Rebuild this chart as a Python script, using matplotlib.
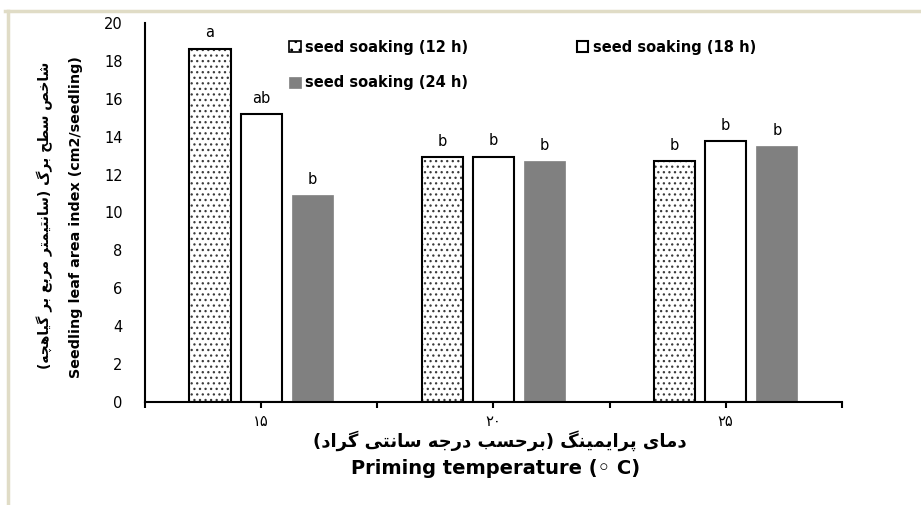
import matplotlib
matplotlib.use('Agg')
import matplotlib.pyplot as plt
import numpy as np
from matplotlib.lines import Line2D

# data
categories = ['۱۵', '۲۰', '۲۵']
soak_12h = [18.65, 12.9, 12.7]
soak_18h = [15.2, 12.95, 13.75]
soak_24h = [10.9, 12.7, 13.5]
letters_12h = ['a', 'b', 'b']
letters_18h = ['ab', 'b', 'b']
letters_24h = ['b', 'b', 'b']

ylabel_fa = 'شاخص سطح برگ (سانتیمتر مربع بر گیاهچه)'
ylabel_en = 'Seedling leaf area index (cm2/seedling)'
xlabel_fa = 'دمای پرایمینگ (برحسب درجه سانتی گراد)'
xlabel_en = 'Priming temperature (\u25e6 C)'

# arabic presentation forms: isolated, final, initial, medial
FORMS = {
    'ا': (0xFE8D, 0xFE8E, None, None),
    'ب': (0xFE8F, 0xFE90, 0xFE91, 0xFE92),
    'ت': (0xFE95, 0xFE96, 0xFE97, 0xFE98),
    'ج': (0xFE9D, 0xFE9E, 0xFE9F, 0xFEA0),
    'ح': (0xFEA1, 0xFEA2, 0xFEA3, 0xFEA4),
    'خ': (0xFEA5, 0xFEA6, 0xFEA7, 0xFEA8),
    'د': (0xFEA9, 0xFEAA, None, None),
    'ر': (0xFEAD, 0xFEAE, None, None),
    'س': (0xFEB1, 0xFEB2, 0xFEB3, 0xFEB4),
    'ش': (0xFEB5, 0xFEB6, 0xFEB7, 0xFEB8),
    'ص': (0xFEB9, 0xFEBA, 0xFEBB, 0xFEBC),
    'ط': (0xFEC1, 0xFEC2, 0xFEC3, 0xFEC4),
    'ع': (0xFEC9, 0xFECA, 0xFECB, 0xFECC),
    'م': (0xFEE1, 0xFEE2, 0xFEE3, 0xFEE4),
    'ن': (0xFEE5, 0xFEE6, 0xFEE7, 0xFEE8),
    'ه': (0xFEE9, 0xFEEA, 0xFEEB, 0xFEEC),
    'پ': (0xFB56, 0xFB57, 0xFB58, 0xFB59),
    'چ': (0xFB7A, 0xFB7B, 0xFB7C, 0xFB7D),
    'گ': (0xFB92, 0xFB93, 0xFB94, 0xFB95),
    'ی': (0xFBFC, 0xFBFD, 0xFBFE, 0xFBFF),
}


def shape_fa(text):
    # minimal shaping + right-to-left ordering (no bidi lib available)
    def joins_next(c):
        return c in FORMS and FORMS[c][2] is not None
    out = []
    for i, c in enumerate(text):
        if c not in FORMS:
            out.append(c)
            continue
        prev = text[i - 1] if i > 0 else ''
        nxt = text[i + 1] if i + 1 < len(text) else ''
        p = joins_next(prev)
        n = joins_next(c) and nxt in FORMS
        iso, fin, ini, med = FORMS[c]
        if p and n:
            out.append(chr(med))
        elif p:
            out.append(chr(fin))
        elif n:
            out.append(chr(ini))
        else:
            out.append(chr(iso))
    mirror = {'(': ')', ')': '('}
    return ''.join(mirror.get(c, c) for c in reversed(out))


plt.rcParams['hatch.linewidth'] = 0.9

fig = plt.figure(figsize=(9.21, 5.05), dpi=100)
ax = fig.add_axes([0.1574, 0.204, 0.7566, 0.7506])

x = np.arange(len(categories))
w = 0.177
step = 0.22

# dotted fill drawn in dark grey, black outline on top
ax.bar(x - step, soak_12h, w, facecolor='white', edgecolor='#3a3a3a',
       linewidth=0, hatch='...')
b12 = ax.bar(x - step, soak_12h, w, facecolor='none', edgecolor='black',
             linewidth=1.5, label='seed soaking (12 h)')
b18 = ax.bar(x, soak_18h, w, facecolor='white', edgecolor='black',
             linewidth=1.5, label='seed soaking (18 h)')
b24 = ax.bar(x + step, soak_24h, w, facecolor='#808080', edgecolor='#808080',
             linewidth=0.5, label='seed soaking (24 h)')

for bars, letters in [(b12, letters_12h), (b18, letters_18h), (b24, letters_24h)]:
    for rect, lab in zip(bars, letters):
        ax.annotate(lab, (rect.get_x() + rect.get_width() / 2, rect.get_height()),
                    textcoords='offset points', xytext=(0, 6), ha='center',
                    va='bottom', fontsize=10.5, family='DejaVu Sans')

ax.set_xlim(-0.5, 2.5)
ax.set_ylim(0, 20)
ax.set_yticks(np.arange(0, 21, 2))
ax.tick_params(axis='y', length=0, pad=16, labelsize=10.5)
ax.set_xticks(x)
ax.set_xticklabels(categories, fontsize=10.5, family='DejaVu Sans')
ax.set_xticks([-0.5, 0.5, 1.5, 2.5], minor=True)
ax.tick_params(axis='x', which='both', direction='out', length=4, width=1.5, pad=5)

for s in ['top', 'right']:
    ax.spines[s].set_visible(False)
for s in ['left', 'bottom']:
    ax.spines[s].set_linewidth(1.5)

# axis titles: persian line + english line
fig.text(45 / 921, 1 - 215 / 505, shape_fa(ylabel_fa), rotation=90, ha='center',
         va='center', fontsize=10, fontweight='bold', family='DejaVu Sans')
fig.text(76 / 921, 1 - 217 / 505, ylabel_en, rotation=90, ha='center',
         va='center', fontsize=10.3, fontweight='bold', family='DejaVu Sans')
fig.text(500 / 921, 1 - 441 / 505, shape_fa(xlabel_fa), ha='center', va='center',
         fontsize=13, fontweight='bold', family='DejaVu Sans')
fig.text(496 / 921, 1 - 468 / 505, xlabel_en, ha='center', va='center',
         fontsize=14, fontweight='bold', family='DejaVu Sans')

# legend: dotted patch for 12 h
h12 = plt.Rectangle((0, 0), 1, 1, facecolor='white', edgecolor='black',
                    linewidth=1.2, hatch='..')
ax.legend(handles=[h12, b24, b18],
          labels=['seed soaking (12 h)', 'seed soaking (24 h)', 'seed soaking (18 h)'],
          ncol=2, loc='upper left',
          bbox_to_anchor=(0.1885, 0.99), frameon=False,
          prop={'weight': 'bold', 'size': 10.5, 'family': 'DejaVu Sans'},
          handlelength=0.8, handleheight=0.8, handletextpad=0.3,
          columnspacing=7.4, labelspacing=1.4)

# beige frame lines at top and left
fig.add_artist(Line2D([5 / 921, 1], [1 - 10.5 / 505] * 2, color='#e0dcc6', lw=2.5))
fig.add_artist(Line2D([8 / 921] * 2, [0, 1 - 10.5 / 505], color='#e0dcc6', lw=2.5))

plt.savefig('out.png', dpi=100)
